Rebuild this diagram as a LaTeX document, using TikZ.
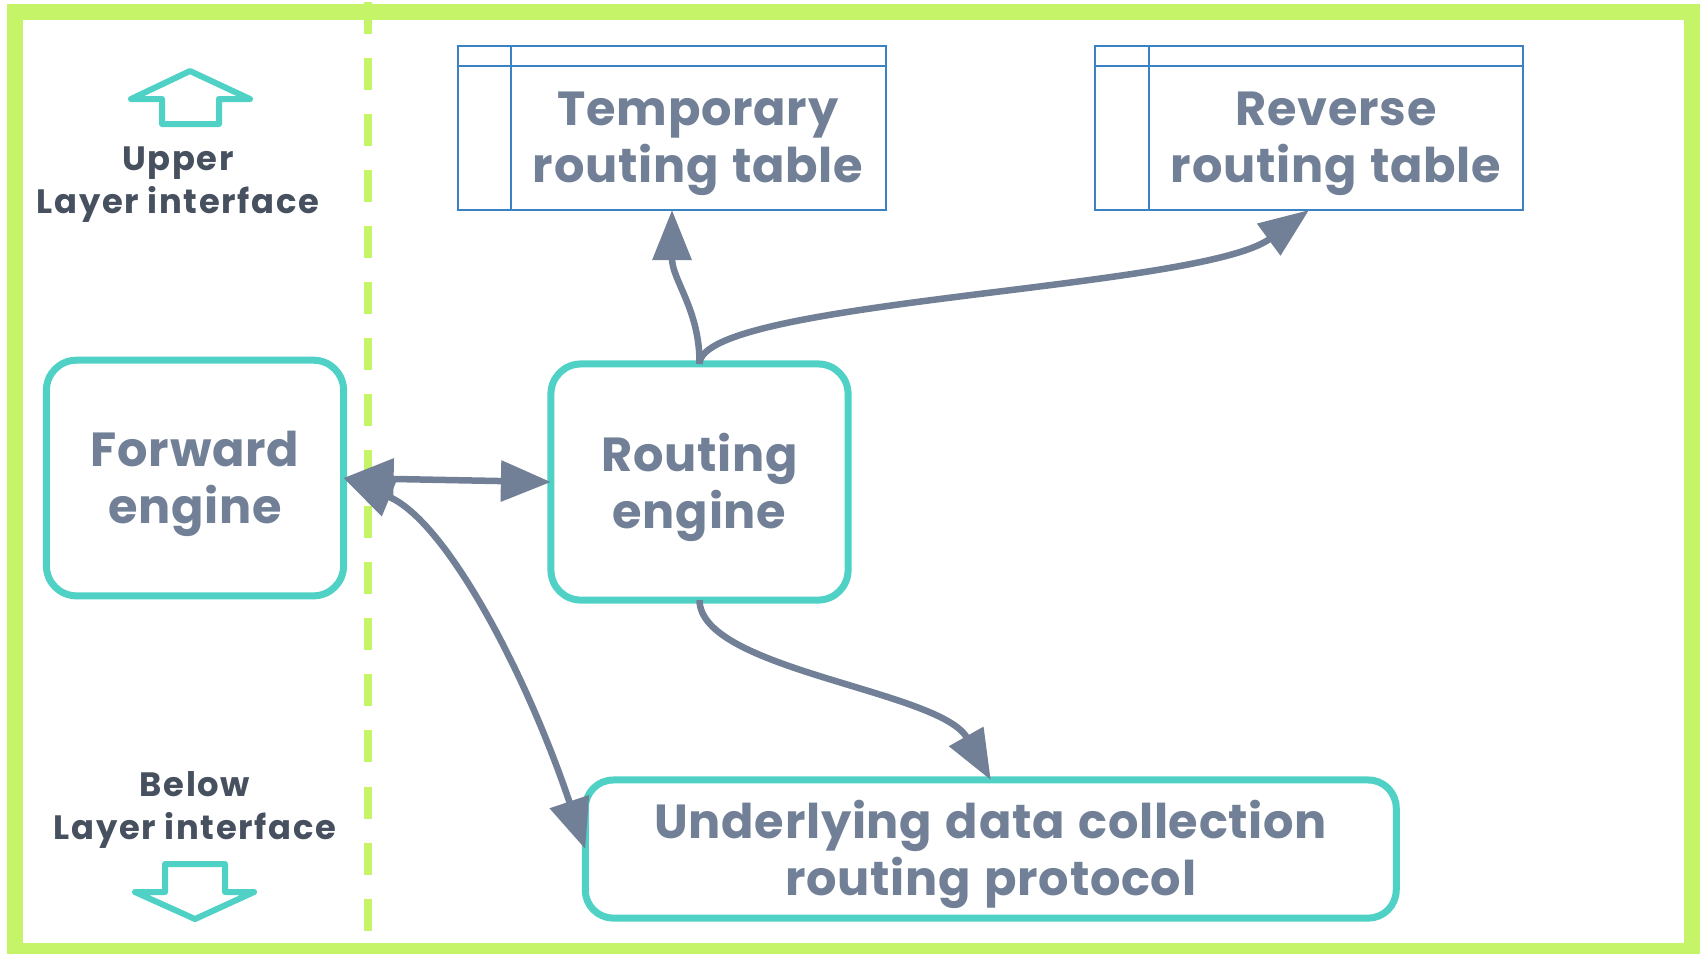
\documentclass[tikz,border=0pt]{standalone}
\usepackage{fontspec}
\setmainfont{Poppins}
\newfontfamily\boxfont{Poppins}[LetterSpace=1.5, WordSpace=1.25]
\newfontfamily\lblfont{Poppins}[LetterSpace=5.0]
\usetikzlibrary{arrows.meta, positioning, calc}
\definecolor{cFrame}{RGB}{198,244,104}
\definecolor{cTeal}{RGB}{79,209,197}
\definecolor{cSlate}{RGB}{113,128,150}
\definecolor{cDark}{RGB}{70,80,95}
\definecolor{cTbl}{RGB}{59,130,196}
\tikzset{
	enginebox/.style={rectangle, rounded corners=0.3cm, draw=cTeal, line width=0.07cm, outer sep=0pt, fill=white, align=center, text=cSlate, text depth=0.5pt, font=\boxfont\bfseries\fontsize{13.6}{16.3}\selectfont},
	tblbox/.style   ={rectangle, draw=cTbl, line width=0.02cm, outer sep=0pt, minimum width=4.28cm, minimum height=1.64cm},
	tblline/.style  ={draw=cTbl, line width=0.02cm},
	tbltext/.style  ={align=center, text=cSlate, font=\boxfont\bfseries\fontsize{13.6}{16.3}\selectfont},
	layerlbl/.style ={align=center, text=cDark, font=\lblfont\bfseries\fontsize{9.6}{12.2}\selectfont},
	layerarrow/.style={draw=cTeal, line width=0.06cm, line join=round, line cap=round},
	flowarrow/.style={draw=cSlate, line width=0.065cm, -{Triangle[length=0.5cm, width=0.38cm]}},
	bothflow/.style ={draw=cSlate, line width=0.065cm, {Triangle[length=0.5cm, width=0.4cm]}-{Triangle[length=0.5cm, width=0.4cm]}},
}
\begin{document}
\begin{tikzpicture}[x=0.01cm, y=-0.01cm]
	\path[use as bounding box, fill=white] (0,0) rectangle (1704,953);
	% frame and layer separator
	\draw[cFrame, line width=0.16cm] (15,12) rectangle (1692,951);
	\draw[cFrame, line width=0.08cm, dash pattern=on 0.32cm off 0.24cm] (368,2) -- (368,953);
	% layer interfaces
	\draw[layerarrow] (190,71) -- (131,99) -- (162,99) -- (162,124) -- (219,124) -- (219,99) -- (250,99) -- cycle;
	\node[layerlbl] (upperlbl) at (178,185) {Upper\\Layer interface};
	\node[layerlbl] (belowlbl) at (195,810) {Below\\Layer interface};
	\draw[layerarrow] (165,864) -- (225,864) -- (225,892) -- (254,892) -- (195,919) -- (135,892) -- (165,892) -- cycle;
	% tables
	\node[tblbox] (temp) at (672,128) {};
	\draw[tblline] ($(temp.north west)+(0,20)$) -- ($(temp.north east)+(0,20)$);
	\draw[tblline] ($(temp.north west)+(53,0)$) -- ($(temp.south west)+(53,0)$);
	\node[tbltext] (tempT) at ($(temp.center)+(26,16)$) {Temporary\\routing table};
	\node[tblbox] (rev) at (1309,128) {};
	\draw[tblline] ($(rev.north west)+(0,20)$) -- ($(rev.north east)+(0,20)$);
	\draw[tblline] ($(rev.north west)+(54,0)$) -- ($(rev.south west)+(54,0)$);
	\node[tbltext] (revT) at ($(rev.center)+(27,16)$) {Reverse\\routing table};
	% engines
	\node[enginebox, minimum width=2.97cm, minimum height=2.355cm] (fwd) at (195,478) {Forward\\engine};
	\node[enginebox, minimum width=2.97cm, minimum height=2.36cm] (rout) at (699.5,482) {Routing\\engine};
	\node[enginebox, rounded corners=0.28cm, minimum width=8.105cm, minimum height=1.38cm] (under) at (990.75,849) {Underlying data collection\\routing protocol};
	% connectors
	\draw[bothflow] (fwd.east) -- (rout.west);
	\draw[bothflow] (fwd.east) .. controls (445,520) and (525,670) .. (under.west);
	\draw[flowarrow] (rout.north) .. controls (700,310) and (672,280) .. (temp.south);
	\draw[flowarrow] (rout.north) .. controls (700,300) and (1200,290) .. (rev.south);
	\draw[flowarrow] (rout.south) .. controls (700,670) and (940,690) .. (under.north);
\end{tikzpicture}
\end{document}
